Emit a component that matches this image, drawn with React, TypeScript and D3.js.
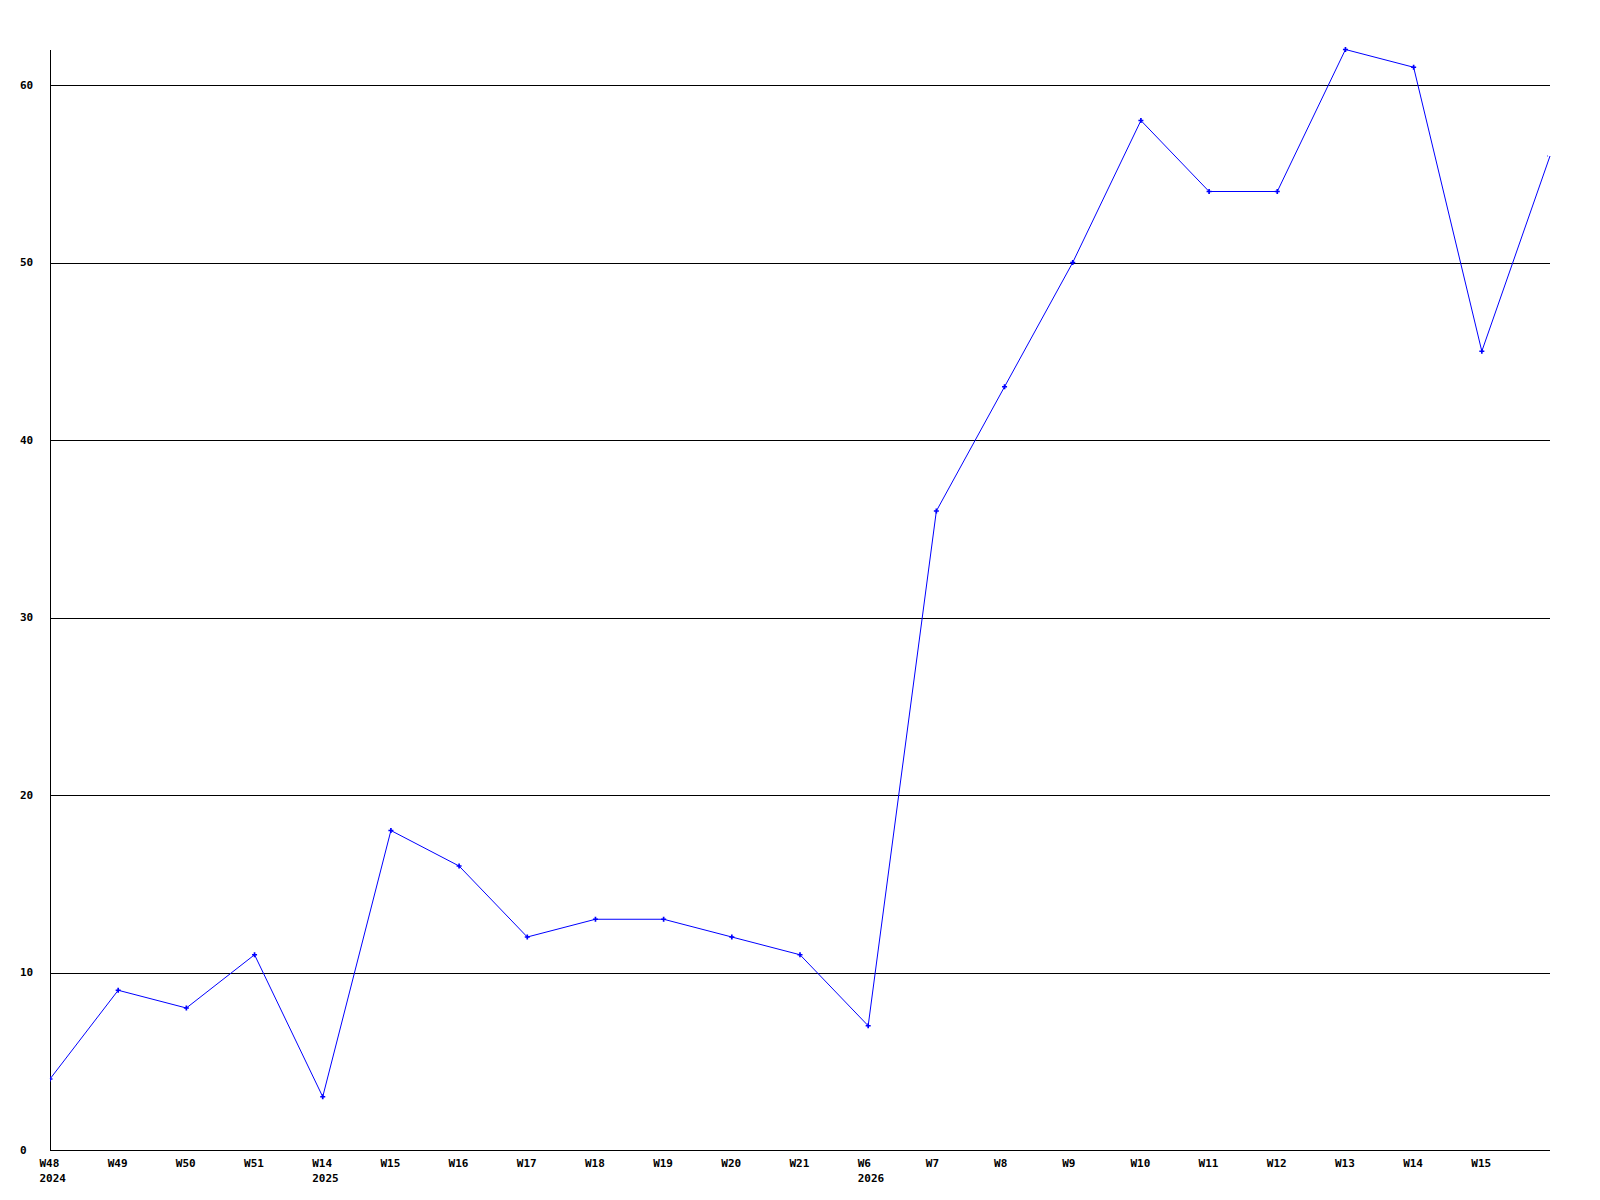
import React from 'react';
import * as d3 from 'd3';

// weekly counts, last point has no label on the axis
const weeks = ['W48', 'W49', 'W50', 'W51', 'W14', 'W15', 'W16', 'W17', 'W18', 'W19', 'W20', 'W21',
  'W6', 'W7', 'W8', 'W9', 'W10', 'W11', 'W12', 'W13', 'W14', 'W15', ''];
const years = ['2024', '', '', '', '2025', '', '', '', '', '', '', '', '2026', '', '', '', '', '', '', '', '', '', ''];
const counts = [4, 9, 8, 11, 3, 18, 16, 12, 13, 13, 12, 11, 7, 36, 43, 50, 58, 54, 54, 62, 61, 45, 56];
const yTicks = [0, 10, 20, 30, 40, 50, 60];

const W = 1600;
const H = 1200;
const left = 50, right = 1550, top = 50, bottom = 1150;
const font = '"DejaVu Sans Mono", monospace';

export default function App() {
  const idx = counts.map((_, i) => i);
  const x = d3.scaleLinear().domain([0, counts.length - 1]).range([left, right]);
  const y = d3.scaleLinear().domain([0, 60]).range([bottom, 85]);

  const line = d3.line<number>()
    .x((_, i) => x(i))
    .y(d => y(d));

  const marker = d3.symbol(d3.symbolCross, 14)();

  return (
    <svg width={W} height={H} style={{ position: 'absolute', left: 0, top: 0, background: '#fff' }}>
      <defs>
        <clipPath id="plot">
          <rect x={left} y={0} width={right - left - 2} height={bottom} />
        </clipPath>
      </defs>

      {/* grid */}
      {yTicks.filter(t => t > 0).map(t => (
        <line key={t} x1={left} x2={right} y1={Math.round(y(t)) + 0.5} y2={Math.round(y(t)) + 0.5}
          stroke="#000" strokeWidth={1} shapeRendering="crispEdges" />
      ))}

      {/* axes */}
      <line x1={left + 0.5} x2={left + 0.5} y1={top} y2={bottom} stroke="#000" shapeRendering="crispEdges" />
      <line x1={left} x2={right} y1={bottom + 0.5} y2={bottom + 0.5} stroke="#000" shapeRendering="crispEdges" />

      {/* y labels */}
      {yTicks.map(t => (
        <text key={t} x={20} y={y(t)} dy="0.35em" fontFamily={font} fontWeight="bold" fontSize={11} fill="#000">
          {t}
        </text>
      ))}

      {/* x labels */}
      {weeks.map((w, i) => w && (
        <text key={'w' + i} x={x(i) - 10.5} y={1166.5} fontFamily={font} fontWeight="bold" fontSize={11} fill="#000">
          {w}
        </text>
      ))}
      {years.map((yr, i) => yr && (
        <text key={'y' + i} x={x(i) - 10.5} y={1181.5} fontFamily={font} fontWeight="bold" fontSize={11} fill="#000">
          {yr}
        </text>
      ))}

      {/* series */}
      <path d={line(counts) || ''} fill="none" stroke="#0000ff" strokeWidth={1} />
      <g clipPath="url(#plot)">
        {idx.map(i => (
          <path key={i} d={marker || ''} transform={`translate(${x(i)},${y(counts[i])})`} fill="#0000ff" />
        ))}
      </g>
    </svg>
  );
}
